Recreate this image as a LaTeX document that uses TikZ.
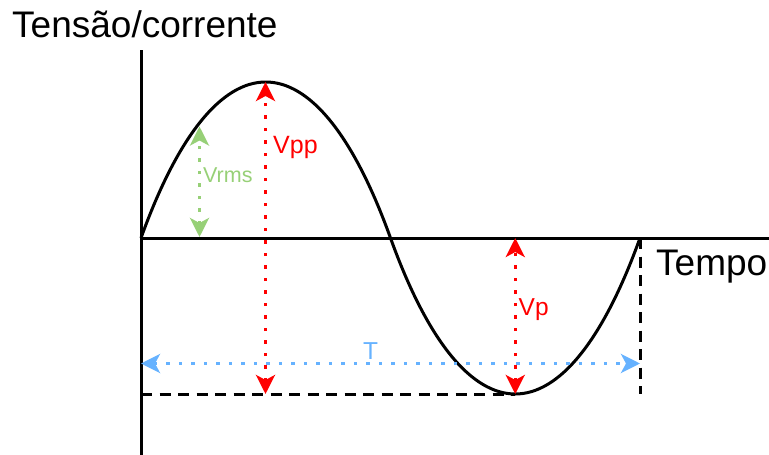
\documentclass[tikz,border=0pt]{standalone}
\usepackage{fontspec}
\setmainfont{Liberation Sans}
\usetikzlibrary{arrows.meta}
\definecolor{cred}{HTML}{FF0000}
\definecolor{cgreen}{HTML}{97D077}
\definecolor{cblue}{HTML}{66B2FF}
\tikzset{
  axisline/.style={line width=3pt, black},
  wave/.style={line width=3pt, black},
  guide/.style={line width=3pt, black, dash pattern=on 11pt off 7.5pt},
  dotarrow/.style={line width=3.4pt, dash pattern=on 3.4pt off 9.1pt,
    {Stealth[length=19pt,width=19pt,inset=5pt]}-{Stealth[length=19pt,width=19pt,inset=5pt]}},
  lbl/.style={inner sep=0pt, anchor=base west},
}
\begin{document}
\begin{tikzpicture}[x=1pt,y=-1pt]
\useasboundingbox (0,0) rectangle (769,455);
% coordinates
\coordinate (ytop) at (141,50);
\coordinate (ybot) at (141,455);
\coordinate (o) at (141,238);
\coordinate (xend) at (769,238);
\coordinate (mid) at (390.5,238);
\coordinate (e) at (640,238);
\coordinate (peak) at (265.5,82);
\coordinate (peakb) at (265.5,394);
\coordinate (trough) at (515.25,394);
\coordinate (troughTop) at (515.25,238);
\coordinate (minL) at (141,394);
\coordinate (eb) at (640,394);
\coordinate (rmsT) at (199.5,126.5);
\coordinate (rmsB) at (199.5,237);
\coordinate (TL) at (141,363.5);
\coordinate (TR) at (640,363.5);
% axes
\draw[axisline] (ytop) -- (ybot);
\draw[axisline] (o) -- (xend);
% guides
\draw[guide] (minL) -- (trough);
\draw[guide] (e) -- (eb);
% wave
\draw[wave, line join=round] (o) .. controls (215.85,30) and (315.65,30) .. (mid)
  .. controls (465.35,446) and (565.15,446) .. (e);
% arrows
\draw[dotarrow, cred] (peakb) -- (peak);
\draw[dotarrow, cred] (trough) -- (troughTop);
\draw[dotarrow, cgreen] (rmsB) -- (rmsT);
\draw[dotarrow, cblue] (TL) -- (TR);
% labels
\node[lbl, font=\fontsize{37}{40}\selectfont] (ylab) at (12,37) {Tensão/corrente};
\node[lbl, font=\fontsize{37}{40}\selectfont] (xlab) at (656,275) {Tempo};
\node[lbl, text=cred, font=\fontsize{25}{28}\selectfont] (vpp) at (273,153) {Vpp};
\node[lbl, text=cgreen, font=\fontsize{21.5}{24}\selectfont] (vrms) at (203,182) {Vrms};
\node[lbl, text=cred, font=\fontsize{24.5}{28}\selectfont] (vp) at (518.5,315) {Vp};
\node[lbl, text=cblue, font=\fontsize{24.5}{28}\selectfont] (tl) at (363,359) {T};
\end{tikzpicture}
\end{document}
